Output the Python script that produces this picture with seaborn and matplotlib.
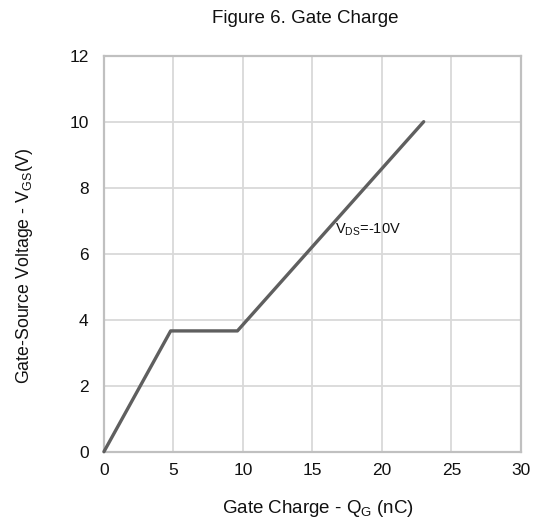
import matplotlib
matplotlib.use("Agg")
import matplotlib.pyplot as plt
import seaborn as sns
import pandas as pd

# Data
gate_charge_nc = [0.0, 4.8, 9.6, 23.0]
vgs_volts = [0.0, 3.66, 3.66, 10.0]
x_ticks = [0, 5, 10, 15, 20, 25, 30]
y_ticks = [0, 2, 4, 6, 8, 10, 12]

sns.set_theme(style="white")
plt.rcParams['font.family'] = ['Liberation Sans', 'DejaVu Sans']
plt.rcParams['mathtext.fontset'] = 'custom'
plt.rcParams['mathtext.rm'] = 'Liberation Sans'
plt.rcParams['mathtext.it'] = 'Liberation Sans'

df = pd.DataFrame({"Qg": gate_charge_nc, "Vgs": vgs_volts})

fig = plt.figure(figsize=(5.33, 5.22), dpi=100)
ax = fig.add_axes([0.195, 0.1347, 0.7825, 0.7586])

sns.lineplot(data=df, x="Qg", y="Vgs", ax=ax, color="#5f5f5f", linewidth=2.4,
             zorder=3, clip_on=False)

ax.set_xlim(0, 30)
ax.set_ylim(0, 12)
ax.set_xticks(x_ticks)
ax.set_yticks(y_ticks)
ax.grid(True, color="#d9d9d9", linewidth=1.3)
for s in ax.spines.values():
    s.set_color("#c0c0c0")
    s.set_linewidth(1.6)
ax.tick_params(axis='both', length=0, labelsize=12.5, colors="#111111")
ax.tick_params(axis='y', pad=11)
ax.tick_params(axis='x', pad=8)
for lbl in ax.get_xticklabels():
    lbl.set_x(lbl.get_position()[0])

ax.set_xlabel(r"Gate Charge - Q$_{\mathregular{G}}$ (nC)", fontsize=13.5, color="#111111")
ax.set_ylabel(r"Gate-Source Voltage - V$_{\mathregular{GS}}$(V)", fontsize=12.8, color="#111111")
ax.xaxis.set_label_coords(0.513, -0.118)
ax.yaxis.set_label_coords(-0.165, 0.469)

ax.text(16.6, 6.72, r"V$_{\mathregular{DS}}$=-10V", fontsize=10.5, va="center", ha="left", color="#111111")

fig.text(0.572, 0.965, "Figure 6. Gate Charge", ha="center", va="center", fontsize=13.5, color="#111111")

fig.savefig("out.png", dpi=100)
